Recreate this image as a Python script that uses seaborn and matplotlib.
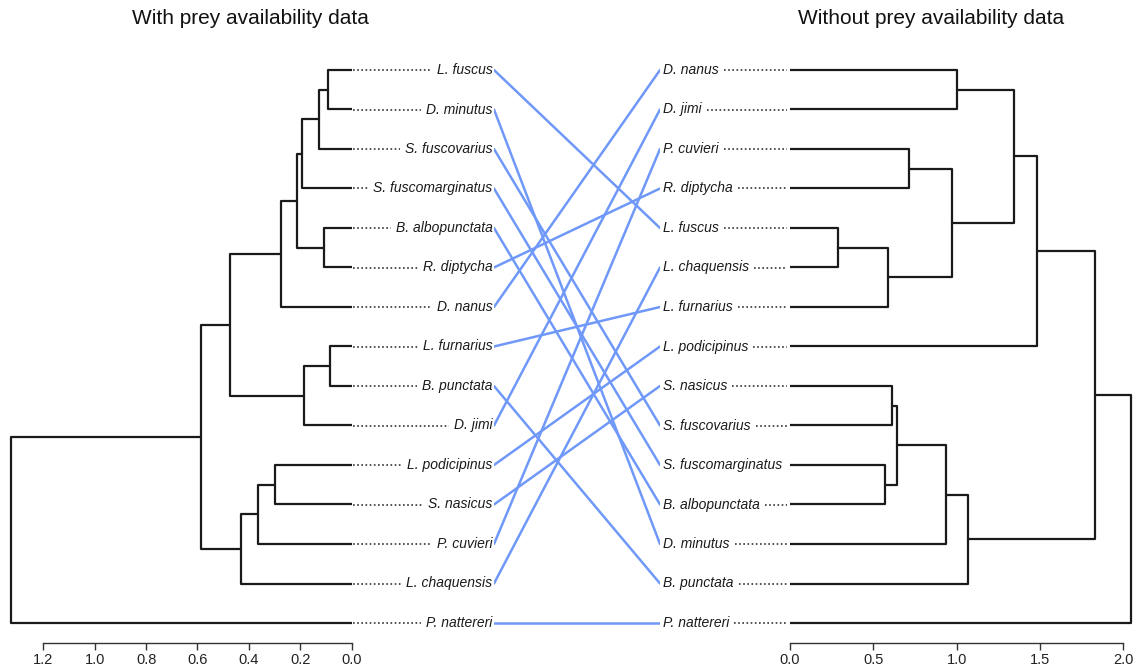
import matplotlib
matplotlib.use("Agg")
import matplotlib.pyplot as plt
import seaborn as sns
import numpy as np

sns.set_theme(style="white")
plt.rcParams['font.family'] = ['Liberation Sans', 'DejaVu Sans']

# ---------------- data ----------------
left_title = "With prey availability data"
right_title = "Without prey availability data"

left_leaves = ["L. fuscus", "D. minutus", "S. fuscovarius", "S. fuscomarginatus",
               "B. albopunctata", "R. diptycha", "D. nanus", "L. furnarius",
               "B. punctata", "D. jimi", "L. podicipinus", "S. nasicus",
               "P. cuvieri", "L. chaquensis", "P. nattereri"]
# merges: (child a, child b, height); new node ids start at len(leaves)
left_merge_a = [0, 15, 16, 4, 17, 19, 7, 21, 20, 10, 24, 25, 23, 27]
left_merge_b = [1, 2, 3, 5, 18, 6, 8, 9, 22, 11, 12, 13, 26, 14]
left_heights = [0.093, 0.127, 0.195, 0.108, 0.213, 0.276, 0.084, 0.186,
                0.475, 0.297, 0.366, 0.432, 0.588, 1.327]

right_leaves = ["D. nanus", "D. jimi", "P. cuvieri", "R. diptycha", "L. fuscus",
                "L. chaquensis", "L. furnarius", "L. podicipinus", "S. nasicus",
                "S. fuscovarius", "S. fuscomarginatus", "B. albopunctata",
                "D. minutus", "B. punctata", "P. nattereri"]
right_merge_a = [0, 2, 4, 17, 16, 15, 20, 8, 10, 22, 24, 25, 21, 27]
right_merge_b = [1, 3, 5, 6, 18, 19, 7, 9, 11, 23, 12, 13, 26, 14]
right_heights = [1.0, 0.716, 0.29, 0.586, 0.97, 1.342, 1.48, 0.61, 0.57,
                 0.642, 0.934, 1.07, 1.832, 2.044]

left_ticks = [1.2, 1.0, 0.8, 0.6, 0.4, 0.2, 0.0]
right_ticks = [0.0, 0.5, 1.0, 1.5, 2.0]

# ---------------- layout ----------------
W, H = 1138, 667
fig = plt.figure(figsize=(W / 100, H / 100), dpi=100)
fig.patch.set_facecolor("white")

n = len(left_leaves)
top_px, bot_px = 50, 643
row0_px, row_step = 70, 39.5
ylim = ((bot_px - row0_px) / row_step, (top_px - row0_px) / row_step)

def fax(x0, x1):
    return fig.add_axes([x0 / W, 1 - bot_px / H, (x1 - x0) / W, (bot_px - top_px) / H])

axL = fax(0, 351.7)
axR = fax(790, 1138)
axM = fax(494, 660)

def draw_tree(ax, nleaves, ma, mb, hts):
    ypos = {i: float(i) for i in range(nleaves)}
    xpos = {i: 0.0 for i in range(nleaves)}
    for k, (a, b, h) in enumerate(zip(ma, mb, hts)):
        node = nleaves + k
        ya, yb = ypos[a], ypos[b]
        sns.lineplot(x=[xpos[a], h, h, xpos[b]], y=[ya, ya, yb, yb], ax=ax,
                     color="#1a1a1a", lw=1.6, sort=False, estimator=None)
        ypos[node] = (ya + yb) / 2
        xpos[node] = h

for ax in (axL, axR, axM):
    ax.set_facecolor("none")
    ax.set_ylim(*ylim)
    for s in ax.spines.values():
        s.set_visible(False)
    ax.set_yticks([])
    ax.set_ylabel("")
    ax.set_xlabel("")

draw_tree(axL, n, left_merge_a, left_merge_b, left_heights)
draw_tree(axR, n, right_merge_a, right_merge_b, right_heights)

axL.set_xlim(351.7 / 257, 0)
axR.set_xlim(0, 348 / 166.7)
axL.set_ylim(*ylim)
axR.set_ylim(*ylim)

for ax, ticks, bounds in ((axL, left_ticks, (0, 1.2)), (axR, right_ticks, (0, 2.0))):
    ax.spines['bottom'].set_visible(True)
    ax.spines['bottom'].set_color("#333333")
    ax.spines['bottom'].set_linewidth(1.0)
    ax.spines['bottom'].set_bounds(*bounds)
    ax.set_xticks(ticks)
    ax.set_xticklabels([f"{t:.1f}" for t in ticks])
    ax.tick_params(axis='x', bottom=True, direction='out', length=5, width=1.0,
                   color="#333333", labelsize=10.5, pad=2, labelcolor="#222222")
    ax.set_xlabel("")
    ax.set_ylabel("")

# connecting lines
axM.set_xlim(0, 1)
axM.set_xticks([])
ridx = {name: i for i, name in enumerate(right_leaves)}
for i, name in enumerate(left_leaves):
    sns.lineplot(x=[0, 1], y=[i, ridx[name]], ax=axM, color="#6f98f8", lw=1.8,
                 sort=False, estimator=None)
axM.set_ylim(*ylim)

# labels
fs = 10
lab_kw = dict(fontsize=fs, style="italic", color="#1a1a1a", va="center")
left_texts, right_texts = [], []
for i, name in enumerate(left_leaves):
    t = fig.text(492.5 / W, 1 - (row0_px + row_step * i) / H, name, ha="right", **lab_kw)
    left_texts.append(t)
for i, name in enumerate(right_leaves):
    t = fig.text(663 / W, 1 - (row0_px + row_step * i) / H, name, ha="left", **lab_kw)
    right_texts.append(t)

fig.text(250 / W, 1 - 19 / H, left_title, ha="center", va="center", fontsize=15, color="#111111")
fig.text(931 / W, 1 - 19 / H, right_title, ha="center", va="center", fontsize=15, color="#111111")

fig.canvas.draw()
r = fig.canvas.get_renderer()
dot_kw = dict(color="#333333", lw=1.2, ls=(0, (1.0, 1.5)))
for i, t in enumerate(left_texts):
    bb = t.get_window_extent(r)
    y = row0_px + row_step * i
    x_end = bb.x0 - 5
    if x_end > 354:
        fig.add_artist(plt.Line2D([353 / W, x_end / W], [1 - y / H, 1 - y / H], **dot_kw))
for i, t in enumerate(right_texts):
    bb = t.get_window_extent(r)
    y = row0_px + row_step * i
    x_st = bb.x1 + 5
    if x_st < 786:
        fig.add_artist(plt.Line2D([x_st / W, 787 / W], [1 - y / H, 1 - y / H], **dot_kw))

fig.savefig("out.png", dpi=100, facecolor="white")
